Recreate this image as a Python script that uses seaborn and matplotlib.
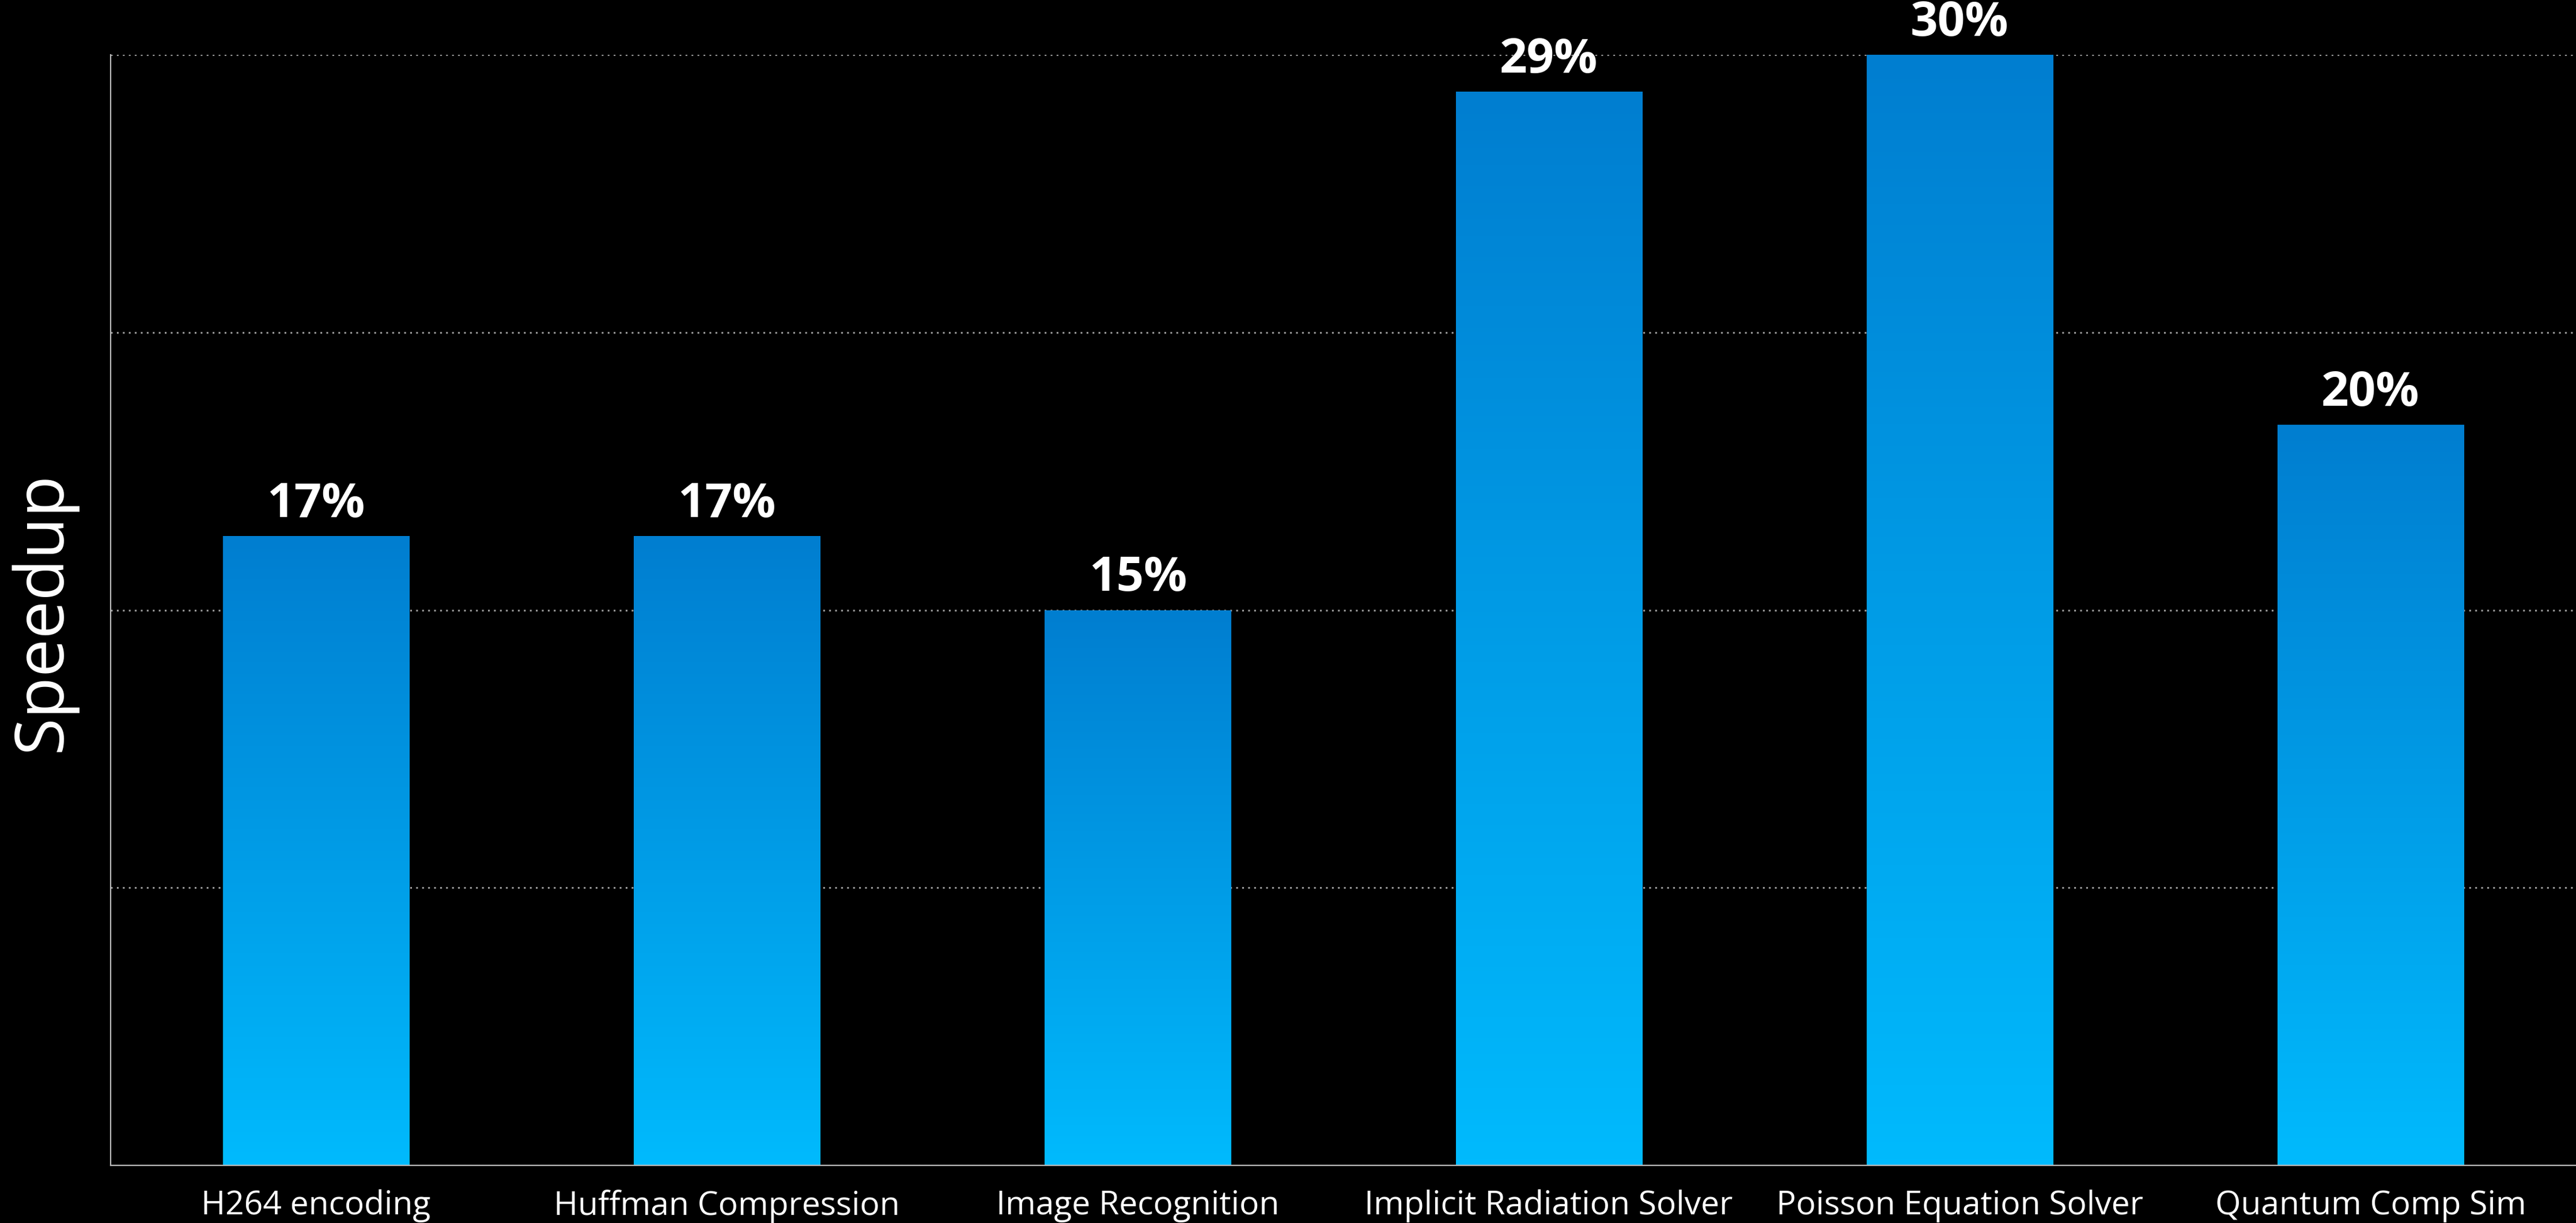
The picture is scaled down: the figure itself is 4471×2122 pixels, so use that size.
import numpy as np
import pandas as pd
import matplotlib
matplotlib.use("Agg")
import matplotlib.pyplot as plt
from matplotlib.colors import LinearSegmentedColormap
import seaborn as sns

categories = ["H264 encoding", "Huffman Compression", "Image Recognition",
              "Implicit Radiation Solver", "Poisson Equation Solver", "Quantum Comp Sim"]
speedup = [17, 17, 15, 29, 30, 20]
value_labels = ["17%", "17%", "15%", "29%", "30%", "20%"]
y_ticks = [0, 7.5, 15, 22.5, 30]

sns.set_theme(style="dark")
plt.rcParams['font.family'] = ['Open Sans', 'DejaVu Sans']

df = pd.DataFrame({"category": categories, "speedup": speedup})

W, H, DPI = 4471, 2122, 100
fig = plt.figure(figsize=(W / DPI, H / DPI), dpi=DPI, facecolor="black")
ax = fig.add_axes([192 / W, 100 / H, (W - 192) / W, 1927 / H])
ax.set_facecolor("black")

sns.barplot(data=df, x="category", y="speedup", width=0.453, ax=ax,
            color="#0090e0", edgecolor="none", zorder=2)

ax.set_xlim(-0.5, len(categories) - 0.5)
ax.set_ylim(0, 30)
ax.set_yticks(y_ticks)
ax.set_yticklabels([])

# gradient fill for each bar
cmap = LinearSegmentedColormap.from_list("bluegrad", ["#00BAFD", "#007ED0"])
grad = np.linspace(0, 1, 256).reshape(-1, 1)
for p in ax.patches:
    x0, y0 = p.get_x(), p.get_y()
    w, h = p.get_width(), p.get_height()
    p.set_facecolor("none")
    im = ax.imshow(grad, cmap=cmap, origin="lower", aspect="auto",
                   extent=[x0, x0 + w, y0, y0 + h], zorder=2, interpolation="bilinear")
    im.set_clip_path(p)

ax.set_xlim(-0.5, len(categories) - 0.5)
ax.set_ylim(0, 30)

# value labels
for i, (v, lab) in enumerate(zip(speedup, value_labels)):
    ax.annotate(lab, (i, v), xytext=(0, 24), textcoords="offset points",
                ha="center", va="baseline", color="white", fontsize=60,
                fontweight="bold", annotation_clip=False)

# grid
ax.grid(False)
ax.yaxis.grid(True, color="#9a9a9a", linewidth=2.2, linestyle=(0, (1.0, 2.4)), zorder=1)
ax.set_axisbelow(True)

for s in ["top", "right"]:
    ax.spines[s].set_visible(False)
for s in ["left", "bottom"]:
    ax.spines[s].set_visible(True)
    ax.spines[s].set_color("#bdbdbd")
    ax.spines[s].set_linewidth(1.6)
    ax.spines[s].set_zorder(3)

ax.tick_params(axis="x", length=0, pad=30, labelsize=41, labelcolor="white")
ax.tick_params(axis="y", length=0)
ax.set_xlabel("")
ax.set_ylabel("Speedup", color="white", fontsize=85)
ax.yaxis.label.set_va("center")
ax.yaxis.set_label_coords(-0.0276, 0.4987)

fig.savefig("out.png", dpi=DPI, facecolor="black")
